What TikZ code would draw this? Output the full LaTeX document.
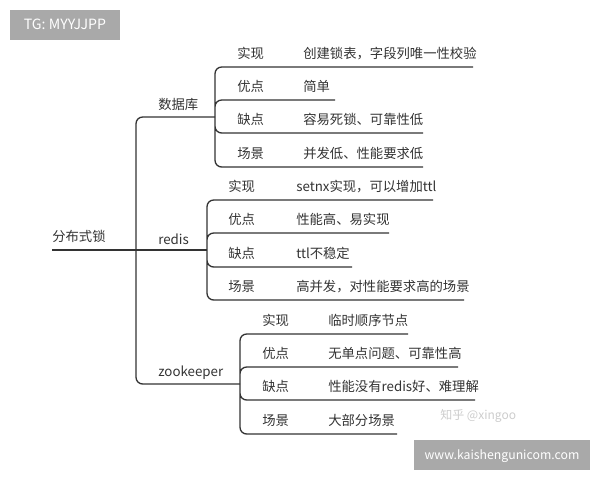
\documentclass[tikz,border=0pt]{standalone}
\usepackage{fontspec}
\setmainfont{Noto Sans CJK SC}
\definecolor{linegray}{HTML}{333333}
\definecolor{stampgray}{HTML}{A9A9A9}
\tikzstyle{branch}=[draw=linegray, line width=1pt, rounded corners=5pt]
\tikzstyle{leaf}=[anchor=base west, inner sep=0pt, text=linegray, font=\fontsize{10}{12}\selectfont]
\tikzstyle{stamp}=[fill=stampgray, text=white, inner sep=0pt, text height=7pt, text depth=0pt, minimum height=22.5pt]

\begin{document}
\begin{tikzpicture}[x=0.75pt, y=-0.75pt]
    \useasboundingbox (0,0) rectangle (600,480);
    % watermarks
    \node[stamp, minimum width=82.5pt, font=\fontsize{10.6}{12}\selectfont] (tg) at (65,25) {TG: MYYJJPP};
    \node[stamp, minimum width=132pt, font=\fontsize{9.2}{11}\selectfont] (www) at (502,455) {www.kaishengunicom.com};
    \node[leaf, text=black!20, font=\fontsize{9}{11}\selectfont] (zhihu) at (440,419) {知乎 @xingoo};
    % root
    \node[leaf] (root) at (52,241) {分布式锁};
    \coordinate (r0) at (52,250);
    \coordinate (sp) at (136,250);
    \draw[branch] (r0)--(sp);
    % 数据库
    \node[leaf] (dbt) at (158,109) {数据库};
    \coordinate (db) at (215,117);
    \draw[branch] (sp) |- (db);
    \node[leaf] (db1) at (237,58) {实现};
    \node[leaf] (db1v) at (303,58) {创建锁表，字段列唯一性校验};
    \coordinate (db1e) at (473,67);
    \node[leaf] (db2) at (237,91) {优点};
    \node[leaf] (db2v) at (303,91) {简单};
    \coordinate (db2e) at (335,100);
    \node[leaf] (db3) at (237,124) {缺点};
    \node[leaf] (db3v) at (303,124) {容易死锁、可靠性低};
    \coordinate (db3e) at (423,133);
    \node[leaf] (db4) at (237,158) {场景};
    \node[leaf] (db4v) at (303,158) {并发低、性能要求低};
    \coordinate (db4e) at (423,167);
    \draw[branch] (db) |- (db1e) (db) |- (db2e) (db) |- (db3e) (db) |- (db4e);
    % redis
    \node[leaf] (rdt) at (158,244) {redis};
    \coordinate (rd) at (207,250);
    \draw[branch] (sp)--(rd);
    \node[leaf] (rd1) at (228,191) {实现};
    \node[leaf] (rd1v) at (296,191) {setnx实现，可以增加ttl};
    \coordinate (rd1e) at (433,200);
    \node[leaf] (rd2) at (228,224) {优点};
    \node[leaf] (rd2v) at (296,224) {性能高、易实现};
    \coordinate (rd2e) at (389,233);
    \node[leaf] (rd3) at (228,258) {缺点};
    \node[leaf] (rd3v) at (296,258) {ttl不稳定};
    \coordinate (rd3e) at (352,267);
    \node[leaf] (rd4) at (228,291) {场景};
    \node[leaf] (rd4v) at (296,291) {高并发，对性能要求高的场景};
    \coordinate (rd4e) at (464,300);
    \draw[branch] (rd) |- (rd1e) (rd) |- (rd2e) (rd) |- (rd3e) (rd) |- (rd4e);
    % zookeeper
    \node[leaf] (zkt) at (158,376) {zookeeper};
    \coordinate (zk) at (240,384);
    \draw[branch] (sp) |- (zk);
    \node[leaf] (zk1) at (262,325) {实现};
    \node[leaf] (zk1v) at (328,325) {临时顺序节点};
    \coordinate (zk1e) at (408,334);
    \node[leaf] (zk2) at (262,358) {优点};
    \node[leaf] (zk2v) at (328,358) {无单点问题、可靠性高};
    \coordinate (zk2e) at (458,367);
    \node[leaf] (zk3) at (262,391) {缺点};
    \node[leaf] (zk3v) at (328,391) {性能没有redis好、难理解};
    \coordinate (zk3e) at (475,400);
    \node[leaf] (zk4) at (262,425) {场景};
    \node[leaf] (zk4v) at (328,425) {大部分场景};
    \coordinate (zk4e) at (397,434);
    \draw[branch] (zk) |- (zk1e) (zk) |- (zk2e) (zk) |- (zk3e) (zk) |- (zk4e);
\end{tikzpicture}
\end{document}
